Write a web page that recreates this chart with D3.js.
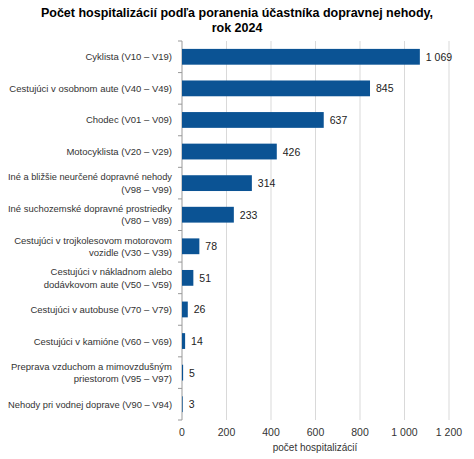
<!DOCTYPE html><html><head><meta charset="utf-8"><script src="https://cdn.jsdelivr.net/npm/d3@7"></script>
<style>body{margin:0;background:#fff}text{font-family:"Liberation Sans",Arial,sans-serif}</style></head><body><svg width="474" height="459"></svg>
<script>
const categories=[["Cyklista (V10 – V19)"],["Cestujúci v osobnom aute (V40 – V49)"],["Chodec (V01 – V09)"],["Motocyklista (V20 – V29)"],["Iné a bližšie neurčené dopravné nehody","(V98 – V99)"],["Iné suchozemské dopravné prostriedky","(V80 – V89)"],["Cestujúci v trojkolesovom  motorovom","vozidle  (V30 – V39)"],["Cestujúci v nákladnom  alebo","dodávkovom  aute (V50 – V59)"],["Cestujúci v autobuse  (V70 – V79)"],["Cestujúci v kamióne  (V60 – V69)"],["Preprava vzduchom  a mimovzdušným","priestorom (V95 – V97)"],["Nehody pri vodnej doprave  (V90 – V94)"]];
const values=[1069,845,637,426,314,233,78,51,26,14,5,3];
const ticks=[0,200,400,600,800,1000,1200];
const svg=d3.select("svg");
const x=d3.scaleLinear().domain([0,1200]).range([182,449]);
const y=d3.scaleBand().domain(d3.range(categories.length)).range([41,420]).paddingInner(0.5).paddingOuter(0.25);
const fmt=v=>d3.format(",")(v).replace(/,/g," ");
svg.append("text").attr("x",237).attr("y",17).attr("text-anchor","middle").attr("font-size",12.5).attr("font-weight","bold").text("Počet hospitalizácií podľa poranenia účastníka dopravnej nehody,");
svg.append("text").attr("x",237).attr("y",32).attr("text-anchor","middle").attr("font-size",12.5).attr("font-weight","bold").text("rok 2024");
svg.append("g").selectAll("line").data(ticks.slice(1)).join("line").attr("x1",d=>x(d)).attr("x2",d=>x(d)).attr("y1",41).attr("y2",420).attr("stroke","#d9d9d9");
svg.append("g").selectAll("text").data(ticks).join("text").attr("x",d=>x(d)).attr("y",436).attr("text-anchor","middle").attr("font-size",10.5).attr("fill","#333").text(fmt);
svg.append("text").attr("x",315).attr("y",451).attr("text-anchor","middle").attr("font-size",10).attr("fill","#333").text("počet hospitalizácií");
svg.append("line").attr("x1",182).attr("x2",182).attr("y1",41).attr("y2",420).attr("stroke","#999");
svg.append("g").selectAll("line").data(d3.range(categories.length+1)).join("line").attr("x1",178).attr("x2",182).attr("y1",i=>41+i*(379/12)).attr("y2",i=>41+i*(379/12)).attr("stroke","#999");
svg.append("g").selectAll("rect").data(values).join("rect").attr("x",x(0)).attr("y",(d,i)=>y(i)).attr("width",d=>x(d)-x(0)).attr("height",y.bandwidth()).attr("fill","#0b5394");
svg.append("g").selectAll("text").data(values).join("text").attr("x",d=>x(d)+6).attr("y",(d,i)=>y(i)+y.bandwidth()/2+4).attr("font-size",10.5).attr("fill","#222").text(fmt);
const lg=svg.append("g");
categories.forEach((c,i)=>{const cy=y(i)+y.bandwidth()/2;const n=c.length;
c.forEach((l,j)=>{const t=lg.append("text").attr("x",172).attr("y",cy+3.5+(j-(n-1)/2)*12.5).attr("text-anchor","end").attr("font-size",9.5).attr("fill","#333").text(l.replace(/  /g," "));
const w=t.node().getComputedTextLength(); if(w>164) t.attr("textLength",164).attr("lengthAdjust","spacingAndGlyphs");});});
</script></body></html>
